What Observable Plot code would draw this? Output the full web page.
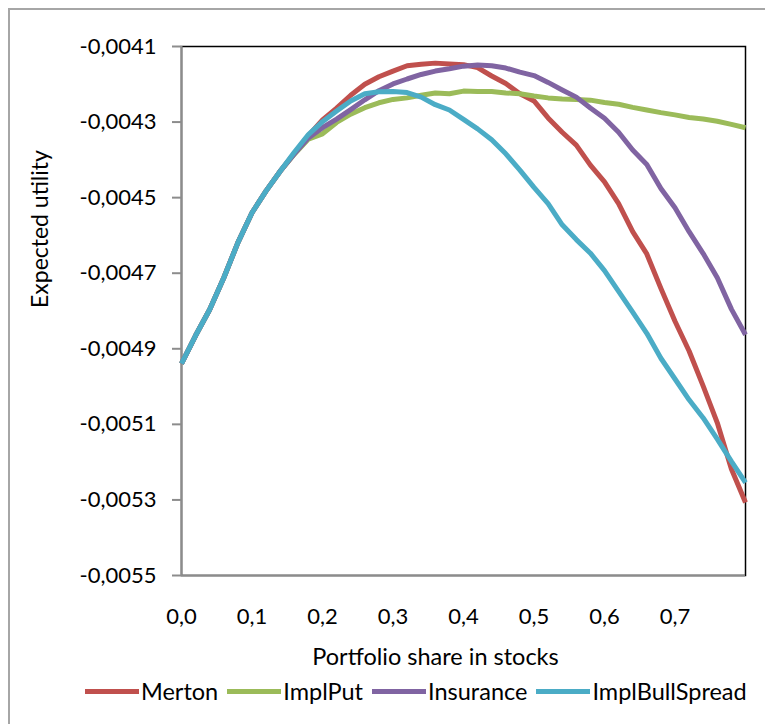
<!DOCTYPE html>
<html>
<head>
<meta charset="utf-8">
<script src="https://cdn.jsdelivr.net/npm/d3@7"></script>
<script src="https://cdn.jsdelivr.net/npm/@observablehq/plot@0.6"></script>
<style>
html, body { margin: 0; padding: 0; background: #fff; overflow: hidden; width: 765px; height: 724px; }
#wrap { position: relative; width: 765px; height: 724px; overflow: hidden; }
#border { position: absolute; left: 8px; top: 8px; width: 900px; height: 900px; border: 2px solid #a6a6a6; box-sizing: border-box; }
#chart { position: absolute; left: 0; top: 0; }
#legend { position: absolute; left: 85px; top: 677px; display: flex; align-items: center; font-family: Lato, "Open Sans", sans-serif; font-size: 23.5px; color: #000; white-space: nowrap; }
.item { display: flex; align-items: center; margin-right: 9px; }
.sw { width: 54px; height: 5px; margin-right: 2px; }
</style>
</head>
<body>
<div id="wrap">
  <div id="border"></div>
  <div id="chart"></div>
  <div id="legend"></div>
</div>
<script>
// Portfolio share in stocks
const share = [0.00,0.02,0.04,0.06,0.08,0.10,0.12,0.14,0.16,0.18,0.20,0.22,0.24,0.26,0.28,0.30,0.32,0.34,0.36,0.38,0.40,
               0.42,0.44,0.46,0.48,0.50,0.52,0.54,0.56,0.58,0.60,0.62,0.64,0.66,0.68,0.70,0.72,0.74,0.76,0.78,0.80];

const seriesNames = ["Merton", "ImplPut", "Insurance", "ImplBullSpread"];
const seriesColors = ["#C0504D", "#9BBB59", "#8064A2", "#4BACC6"];

// Expected utility
const merton = [-0.004939,-0.004865,-0.004796,-0.004712,-0.004619,-0.004540,-0.004482,-0.004430,-0.004383,-0.004336,-0.004294,
  -0.004263,-0.004229,-0.004200,-0.004180,-0.004165,-0.004151,-0.004147,-0.004144,-0.004146,-0.004148,
  -0.004156,-0.004178,-0.004198,-0.004225,-0.004244,-0.004289,-0.004327,-0.004361,-0.004414,-0.004458,
  -0.004516,-0.004590,-0.004649,-0.004740,-0.004827,-0.004906,-0.004999,-0.005096,-0.005218,-0.005307];
const implPut = [-0.004939,-0.004865,-0.004796,-0.004712,-0.004619,-0.004540,-0.004482,-0.004430,-0.004385,-0.004345,-0.004331,
  -0.004301,-0.004279,-0.004262,-0.004249,-0.004240,-0.004236,-0.004229,-0.004223,-0.004225,-0.004218,
  -0.004219,-0.004219,-0.004223,-0.004225,-0.004231,-0.004236,-0.004239,-0.004240,-0.004242,-0.004248,
  -0.004253,-0.004261,-0.004268,-0.004275,-0.004281,-0.004288,-0.004292,-0.004298,-0.004306,-0.004315];
const insurance = [-0.004939,-0.004865,-0.004796,-0.004712,-0.004619,-0.004540,-0.004482,-0.004430,-0.004384,-0.004342,-0.004315,
  -0.004292,-0.004267,-0.004241,-0.004217,-0.004199,-0.004186,-0.004174,-0.004165,-0.004159,-0.004152,
  -0.004149,-0.004151,-0.004157,-0.004168,-0.004177,-0.004195,-0.004215,-0.004234,-0.004263,-0.004290,
  -0.004327,-0.004374,-0.004412,-0.004476,-0.004527,-0.004590,-0.004648,-0.004712,-0.004795,-0.004863];
const implBullSpread = [-0.004939,-0.004865,-0.004796,-0.004712,-0.004619,-0.004540,-0.004482,-0.004430,-0.004380,-0.004333,-0.004299,
  -0.004271,-0.004244,-0.004225,-0.004220,-0.004219,-0.004222,-0.004234,-0.004254,-0.004268,-0.004293,
  -0.004318,-0.004347,-0.004384,-0.004427,-0.004473,-0.004516,-0.004572,-0.004611,-0.004647,-0.004693,
  -0.004748,-0.004803,-0.004859,-0.004925,-0.004980,-0.005035,-0.005083,-0.005139,-0.005198,-0.005254];

const xTicks = [0, 0.1, 0.2, 0.3, 0.4, 0.5, 0.6, 0.7];
const yTicks = [-0.0055, -0.0053, -0.0051, -0.0049, -0.0047, -0.0045, -0.0043, -0.0041];

const seriesValues = [merton, implPut, insurance, implBullSpread];
const rows = [];
seriesNames.forEach((name, i) => {
  share.forEach((x, j) => rows.push({series: name, x, v: seriesValues[i][j]}));
});

const comma = (d, n) => d.toFixed(n).replace(".", ",");
const FONT = "Lato, 'Open Sans', sans-serif";

const chart = Plot.plot({
  width: 765,
  height: 672,
  marginLeft: 181,
  marginRight: 20,
  marginTop: 46,
  marginBottom: 97,
  style: {fontFamily: FONT, fontSize: "22px", color: "#000", background: "transparent"},
  x: {domain: [0, 0.8]},
  y: {domain: [-0.0055, -0.0041]},
  color: {domain: seriesNames, range: seriesColors},
  marks: [
    Plot.frame({stroke: "#000", strokeWidth: 1.5}),
    Plot.ruleX([0], {stroke: "#8c8c8c", strokeWidth: 2}),
    Plot.ruleY([-0.0055], {stroke: "#8c8c8c", strokeWidth: 2}),
    Plot.line(rows, {x: "x", y: "v", z: "series", stroke: "series", strokeWidth: 5, strokeLinejoin: "round", strokeLinecap: "butt"}),
    Plot.axisY(yTicks, {tickFormat: d => comma(d, 4), tickSize: 9, tickPadding: 16, stroke: "#8c8c8c", strokeWidth: 2, fill: "#000", label: null}),
    Plot.axisX(xTicks, {tickFormat: d => comma(d, 1), tickSize: 0, tickPadding: 33, fill: "#000", label: null}),
    Plot.text(["Portfolio share in stocks"], {frameAnchor: "bottom", lineAnchor: "top", dy: 73, dx: -28, fill: "#000", fontSize: 23.5}),
    Plot.text(["Expected utility"], {frameAnchor: "left", rotate: -90, dx: -141, dy: -3, fill: "#000", fontSize: 23})
  ]
});
document.getElementById("chart").appendChild(chart);

const legend = document.getElementById("legend");
seriesNames.forEach((name, i) => {
  const item = document.createElement("div");
  item.className = "item";
  const sw = document.createElement("div");
  sw.className = "sw";
  sw.style.background = seriesColors[i];
  const label = document.createElement("span");
  label.textContent = name;
  item.appendChild(sw);
  item.appendChild(label);
  legend.appendChild(item);
});
</script>
</body>
</html>
